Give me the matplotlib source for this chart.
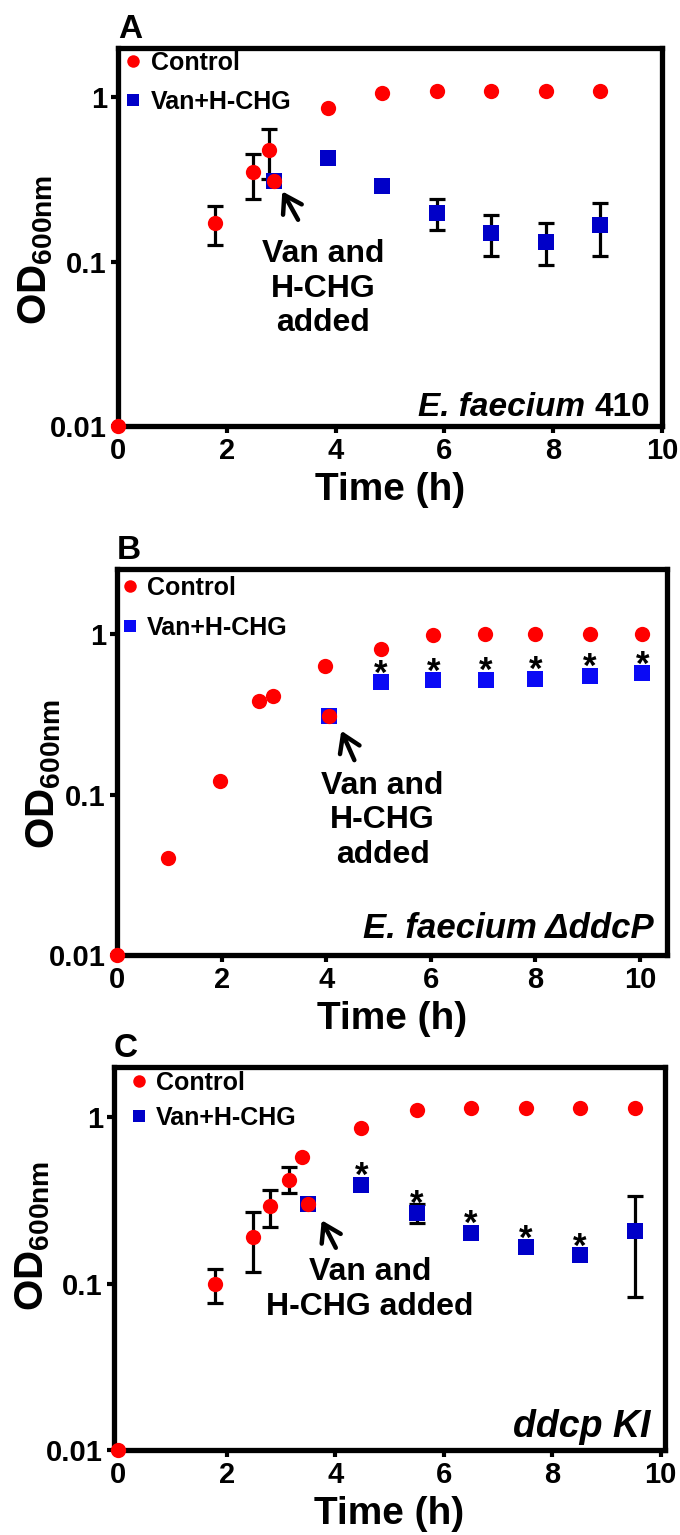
import numpy as np
import matplotlib
matplotlib.use('Agg')
import matplotlib.pyplot as plt
from matplotlib.lines import Line2D

plt.rcParams['font.family'] = ['Liberation Sans', 'DejaVu Sans']
plt.rcParams['font.weight'] = 'bold'
plt.rcParams['mathtext.fontset'] = 'custom'
plt.rcParams['mathtext.bf'] = 'Liberation Sans:bold'
plt.rcParams['mathtext.rm'] = 'Liberation Sans:bold'

RED = '#ff0000'

# ---- panel A : E. faecium 410 ----
a_ctl_t = [0, 1.78, 2.48, 2.78, 2.86, 3.86, 4.86, 5.86, 6.86, 7.86, 8.86]
a_ctl_od = [0.01, 0.171, 0.35, 0.48, 0.31, 0.865, 1.06, 1.09, 1.09, 1.09, 1.09]
a_ctl_lo = [None, 0.126, 0.24, 0.32, None, None, None, None, None, None, None]
a_ctl_hi = [None, 0.217, 0.45, 0.64, None, None, None, None, None, None, None]
a_van_t = [2.86, 3.86, 4.86, 5.86, 6.86, 7.86, 8.86]
a_van_od = [0.31, 0.43, 0.29, 0.197, 0.150, 0.132, 0.167]
a_van_lo = [None, None, None, 0.156, 0.108, 0.095, 0.109]
a_van_hi = [None, None, None, 0.241, 0.193, 0.171, 0.227]
a_star = []

# ---- panel B : E. faecium delta ddcP ----
b_ctl_t = [0, 0.97, 1.97, 2.72, 2.98, 3.97, 4.06, 5.05, 6.05, 7.04, 8.0, 9.05, 10.05]
b_ctl_od = [0.01, 0.040, 0.121, 0.385, 0.41, 0.63, 0.31, 0.81, 0.985, 1.0, 1.0, 1.0, 1.0]
b_ctl_lo = [None] * 13
b_ctl_hi = [None] * 13
b_van_t = [4.06, 5.05, 6.05, 7.05, 8.0, 9.05, 10.05]
b_van_od = [0.31, 0.50, 0.515, 0.52, 0.527, 0.55, 0.57]
b_van_lo = [None] * 7
b_van_hi = [None] * 7
b_star = [False, True, True, True, True, True, True]

# ---- panel C : ddcp KI ----
c_ctl_t = [0, 1.78, 2.48, 2.79, 3.15, 3.39, 3.49, 4.48, 5.50, 6.50, 7.51, 8.51, 9.52]
c_ctl_od = [0.01, 0.10, 0.19, 0.291, 0.42, 0.575, 0.30, 0.86, 1.11, 1.14, 1.14, 1.14, 1.14]
c_ctl_lo = [None, 0.076, 0.117, 0.219, 0.35, None, None, None, None, None, None, None, None]
c_ctl_hi = [None, 0.123, 0.269, 0.363, 0.50, None, None, None, None, None, None, None, None]
c_van_t = [3.49, 4.48, 5.50, 6.50, 7.51, 8.51, 9.52]
c_van_od = [0.30, 0.39, 0.267, 0.201, 0.165, 0.148, 0.207]
c_van_lo = [None, None, 0.231, None, None, None, 0.083]
c_van_hi = [None, None, 0.30, None, None, None, 0.336]
c_star = [False, True, True, True, True, True, False]

xticks = [0, 2, 4, 6, 8, 10]
yticks = [0.01, 0.1, 1]
yticklabels = ['0.01', '0.1', '1']

panels = [
    dict(letter='A', rect=[118, 48, 662, 426], xlim=(0, 10), ylim=(0.01, 2.0),
         ctl=(a_ctl_t, a_ctl_od, a_ctl_lo, a_ctl_hi), van=(a_van_t, a_van_od, a_van_lo, a_van_hi),
         star=a_star, blue='#0000c8', strain='E. faecium', strain2='410', spfs=24,
         arrow=((3.02, 0.268), (3.31, 0.18)), note='Van and\nH-CHG\nadded', note_xy=(3.77, 0.0687),
         leg=(0.005, 0.993), lsp=0.6, lab=(-0.116, 0.466), sp=(0.978, 0.026)),
    dict(letter='B', rect=[117, 569, 667, 955], xlim=(0, 10.52), ylim=(0.01, 2.55),
         ctl=(b_ctl_t, b_ctl_od, b_ctl_lo, b_ctl_hi), van=(b_van_t, b_van_od, b_van_lo, b_van_hi),
         star=b_star, blue='#0a0af5', strain='E. faecium \u0394ddcP', strain2=None, spfs=25,
         arrow=((4.29, 0.25), (4.54, 0.164)), note='Van and\nH-CHG\nadded', note_xy=(5.08, 0.069),
         leg=(0.0, 0.983), lsp=0.65, lab=(-0.098, 0.47), sp=(0.976, 0.044)),
    dict(letter='C', rect=[114, 1067, 665, 1450], xlim=(-0.08, 10.08), ylim=(0.01, 2.0),
         ctl=(c_ctl_t, c_ctl_od, c_ctl_lo, c_ctl_hi), van=(c_van_t, c_van_od, c_van_lo, c_van_hi),
         star=c_star, blue='#0000c8', strain='ddcp KI', strain2=None, spfs=27,
         arrow=((3.75, 0.24), (4.01, 0.164)), note='Van and\nH-CHG added', note_xy=(4.64, 0.092),
         leg=(0.022, 0.99), lsp=0.45, lab=(-0.113, 0.56), sp=(0.973, 0.034)),
]

W, H = 680, 1535
fig = plt.figure(figsize=(W / 100, H / 100), dpi=100)


def errs(vals, lo, hi):
    idx = [i for i in range(len(vals)) if lo[i] is not None]
    return idx, [[vals[i] - lo[i] for i in idx], [hi[i] - vals[i] for i in idx]]


for p in panels:
    l, t, r, b = p['rect']
    ax = fig.add_axes([l / W, 1 - b / H, (r - l) / W, (b - t) / H])
    ax.set_yscale('log')
    ax.set_xlim(*p['xlim'])
    ax.set_ylim(*p['ylim'])

    for key, mk, col, z in [('van', 's', p['blue'], 3), ('ctl', 'o', RED, 4)]:
        tt, od, lo, hi = p[key]
        idx, yerr = errs(od, lo, hi)
        if idx:
            ax.errorbar([tt[i] for i in idx], [od[i] for i in idx], yerr=yerr, fmt='none',
                        ecolor='black', elinewidth=2.3, capsize=5.5, capthick=2.3, zorder=2, clip_on=False)
        ax.plot(tt, od, mk, color=col, markersize=11, markeredgewidth=0, zorder=z, clip_on=False)

    if p['star']:
        tt, od = p['van'][0], p['van'][1]
        for i, s in enumerate(p['star']):
            if s:
                ax.annotate('*', xy=(tt[i], od[i]), xytext=(0, 6), textcoords='offset points',
                            ha='center', va='center', fontsize=25, fontweight='bold')

    # "added" arrow
    ax.annotate('', xy=p['arrow'][0], xytext=p['arrow'][1],
                arrowprops=dict(arrowstyle='->,head_length=0.5,head_width=0.32', lw=3.2,
                                color='black', mutation_scale=24, shrinkA=0, shrinkB=0))
    ax.text(p['note_xy'][0], p['note_xy'][1], p['note'], ha='center', va='center',
            fontsize=23, fontweight='bold', linespacing=1.2)

    if p['strain2']:
        t2 = ax.text(p['sp'][0], p['sp'][1], p['strain2'], transform=ax.transAxes,
                     ha='right', va='baseline', fontsize=p['spfs'], fontweight='bold')
        ax.annotate(p['strain'] + ' ', xy=(0, 0), xycoords=t2, ha='right', va='bottom',
                    fontsize=p['spfs'], fontweight='bold', fontstyle='italic')
    else:
        ax.text(p['sp'][0], p['sp'][1], p['strain'], transform=ax.transAxes,
                ha='right', va='baseline', fontsize=p['spfs'], fontweight='bold', fontstyle='italic')

    handles = [Line2D([], [], ls='none', marker='o', color=RED, markersize=9, markeredgewidth=0),
               Line2D([], [], ls='none', marker='s', color=p['blue'], markersize=9, markeredgewidth=0)]
    ax.legend(handles, ['Control', 'Van+H-CHG'], loc='upper left', bbox_to_anchor=p['leg'],
              frameon=False, handlelength=1.0, handletextpad=0.2,
              borderpad=0, borderaxespad=0, labelspacing=p['lsp'],
              prop=dict(weight='bold', size=18))

    ax.set_xticks(xticks)
    ax.set_xticklabels([str(v) for v in xticks])
    ax.set_yticks(yticks)
    ax.set_yticklabels(yticklabels)
    ax.yaxis.set_minor_locator(matplotlib.ticker.NullLocator())
    ax.tick_params(axis='both', which='major', direction='out', length=5, width=3,
                   labelsize=21, pad=3)
    for lab in ax.get_xticklabels() + ax.get_yticklabels():
        lab.set_fontweight('bold')
    for s in ax.spines.values():
        s.set_linewidth(3.8)

    ax.set_xlabel('Time (h)', fontsize=28, fontweight='bold', labelpad=5)
    ax.set_ylabel(r'$\mathbf{OD}_{\mathbf{600nm}}$', fontsize=29)
    ax.yaxis.set_label_coords(*p['lab'])

    fig.text(l / W, 1 - (t - 10) / H, p['letter'], ha='left', va='baseline',
             fontsize=24, fontweight='bold')

fig.savefig('out.png', dpi=100)
